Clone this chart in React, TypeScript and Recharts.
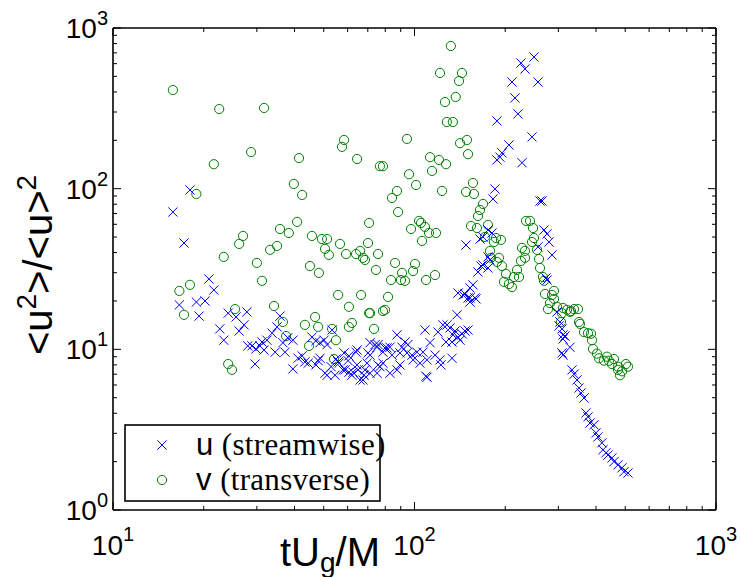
import React from 'react';
import { ScatterChart, Scatter, XAxis, YAxis } from 'recharts';

// tick values (log axes, majors get labels)
const xTicks = [10, 20, 30, 40, 50, 60, 70, 80, 90, 100, 200, 300, 400, 500, 600, 700, 800, 900, 1000];
const yTicks = [1, 2, 3, 4, 5, 6, 7, 8, 9, 10, 20, 30, 40, 50, 60, 70, 80, 90, 100, 200, 300, 400, 500, 600, 700, 800, 900, 1000];
const majorTicks = [1, 10, 100, 1000];

// u (streamwise): [tUg/M, <u^2>/<u>^2]
const uPoints: [number, number][] = [
  [15.8, 71.6], [18.0, 98.2], [17.2, 45.9], [20.8, 27.4], [21.6, 23.4], [16.6, 18.9], [18.9, 19.7], [20.2, 20.0],
  [19.3, 16.1], [24.1, 16.8], [25.6, 15.9], [27.2, 14.2], [27.8, 17.1], [26.2, 13.0], [22.6, 13.4], [23.3, 11.4],
  [28.0, 10.5], [35.8, 16.1], [35.0, 13.8], [33.7, 12.6], [32.4, 11.4], [31.2, 11.1], [28.9, 10.5], [30.7, 10.5],
  [29.8, 10.06], [31.7, 9.9], [34.5, 9.6], [37.2, 9.6], [36.6, 11.0], [38.0, 11.8], [39.5, 11.4], [39.5, 7.55],
  [29.6, 8.1], [41.1, 8.8], [42.4, 9.1], [43.3, 8.35], [44.4, 8.2], [45.7, 11.9], [47.1, 11.3], [48.6, 11.0],
  [50.1, 11.4], [51.3, 10.7], [53.3, 13.2], [48.6, 8.8], [47.1, 8.0], [51.3, 6.9], [52.9, 7.8], [54.5, 6.9],
  [56.2, 8.2], [57.9, 7.45], [60.6, 7.2], [62.0, 6.9], [64.0, 9.6], [65.0, 7.45], [66.0, 6.45], [68.0, 6.9],
  [70.1, 9.5], [69.6, 8.2], [60.6, 9.1], [54.9, 8.7], [58.4, 9.5], [58.8, 7.45], [67.5, 6.45], [64.5, 8.0],
  [68.5, 7.45], [71.2, 7.1], [75.7, 8.0], [78.6, 8.2], [82.9, 7.1], [62.5, 7.2], [64.5, 9.9], [71.2, 9.2],
  [74.0, 10.7], [75.7, 10.7], [78.6, 9.6], [81.1, 10.2], [84.2, 9.2], [87.5, 7.45], [89.5, 8.0], [87.5, 12.3],
  [90.9, 10.3], [93.0, 11.1], [95.1, 10.7], [94.4, 9.5], [98.1, 9.2], [98.9, 8.6], [101.9, 9.6], [104.3, 8.2],
  [106.7, 9.6], [108.3, 13.2], [110.0, 6.7], [110.0, 8.6], [112.6, 11.0], [117.0, 9.2], [119.7, 12.8], [121.5, 8.6],
  [122.4, 8.0], [124.3, 14.2], [127.2, 11.1], [128.2, 14.2], [131.2, 13.6], [133.2, 11.1], [134.2, 12.3], [133.2, 8.8],
  [136.3, 13.0], [138.4, 16.4], [139.4, 11.9], [139.4, 22.4], [147.1, 22.1], [152.8, 20.9], [159.9, 20.6], [147.1, 13.0],
  [79.8, 10.2], [75.1, 10.3], [71.2, 11.0], [76.8, 7.8], [75.1, 7.1], [89.5, 9.5], [82.9, 10.3], [109.2, 6.8],
  [150.5, 13.2], [143.7, 12.5], [141.6, 11.4], [156.3, 25.2], [152.8, 24.1], [144.8, 21.8], [150.5, 20.9], [158.7, 20.9],
  [152.8, 19.7], [162.4, 30.3], [168.7, 33.5], [175.3, 32.1], [178.0, 36.0], [175.3, 37.6], [166.2, 33.0], [148.2, 44.6],
  [164.9, 48.6], [168.7, 50.1], [175.3, 55.3], [180.7, 53.0], [184.9, 99.6], [182.1, 86.3], [187.7, 264], [192.1, 157],
  [195.0, 167], [187.7, 151], [205.7, 187], [227.3, 145], [245.3, 210], [220.4, 292], [215.4, 367], [210.5, 461],
  [256.8, 461], [232.5, 556], [225.5, 605], [249.1, 660], [260.8, 83.8], [264.8, 83.8], [268.8, 55.3], [275.1, 52.3],
  [279.3, 46.6], [256.8, 43.4], [285.8, 38.7], [273.0, 27.8], [275.1, 27.0], [296.9, 17.1], [303.8, 14.8], [310.8, 12.3],
  [308.4, 9.5], [301.5, 14.0], [308.4, 13.4], [315.6, 12.1], [310.8, 11.6], [327.9, 10.3], [310.8, 9.2], [332.9, 7.45],
  [338.1, 7.0], [345.9, 6.45], [351.2, 5.75], [356.6, 5.35], [364.9, 4.98], [370.5, 4.02], [376.2, 3.8], [382.0, 3.48],
  [393.8, 3.39], [399.9, 3.02], [406.0, 2.85], [418.6, 2.62], [421.8, 2.37], [431.6, 2.27], [438.2, 2.2], [451.8, 2.11],
  [458.8, 2.0], [473.2, 1.91], [487.8, 1.83], [495.3, 1.73], [510.6, 1.7], [47.9, 8.5], [50.5, 7.1], [55.8, 8.35],
  [60.2, 8.5],
];

// v (transverse)
const vPoints: [number, number][] = [
  [15.8, 411], [22.5, 313], [31.7, 318], [28.7, 169], [21.6, 142], [18.9, 92.7], [41.4, 155], [58.4, 201],
  [57.5, 182], [64.5, 153], [39.8, 107], [42.4, 91.4], [40.8, 62.1], [70.7, 61.2], [35.8, 56.1], [38.3, 53.0],
  [27.0, 50.8], [26.2, 45.3], [45.7, 50.8], [49.3, 48.6], [51.3, 48.6], [50.5, 42.2], [52.0, 38.7], [56.6, 45.3],
  [59.3, 39.2], [64.0, 39.2], [66.0, 41.0], [68.5, 36.0], [70.1, 45.9], [33.2, 41.6], [35.0, 44.0], [23.3, 37.6],
  [30.0, 34.5], [45.0, 33.0], [48.2, 29.9], [31.2, 26.7], [18.0, 25.2], [16.6, 23.1], [17.2, 16.4], [25.4, 17.8],
  [34.2, 18.6], [36.6, 14.8], [37.5, 12.1], [43.3, 14.2], [46.8, 15.9], [47.9, 13.8], [53.3, 13.4], [54.9, 11.4],
  [44.7, 10.5], [54.1, 8.7], [55.8, 21.8], [66.5, 21.8], [60.6, 18.4], [62.0, 14.6], [60.6, 13.8], [70.7, 16.8],
  [24.1, 8.1], [24.8, 7.45], [132, 773], [121.5, 525], [143.7, 525], [140.5, 468], [126.2, 346], [137, 372],
  [128, 260], [134, 260], [94.4, 204], [141.6, 192], [149.3, 201], [150.5, 164], [76.8, 138], [78.6, 138],
  [112.6, 157], [120.6, 151], [127.2, 142], [114.3, 129], [95.9, 123], [101.2, 105.4], [123.4, 96.8], [87.5, 96.8],
  [84.2, 87.5], [156.3, 108.5], [148.2, 95.4], [157.5, 92.7], [88.2, 71.6], [168.7, 80.3], [164.9, 73.7], [162.4, 67.6],
  [103.5, 63.0], [105.1, 61.2], [108.3, 57.8], [97.4, 56.1], [111.7, 53.0], [117.8, 53.0], [105.9, 47.3], [154.0, 58.6],
  [161.1, 56.9], [175.3, 59.5], [171.3, 50.1], [186.3, 49.3], [193.6, 48.0], [183.5, 46.6], [178.0, 41.0], [179.4, 37.1],
  [190.6, 37.1], [75.7, 39.2], [74.5, 31.2], [86.2, 34.5], [90.9, 29.9], [98.9, 30.7], [100.4, 34.0], [83.6, 27.0],
  [90.2, 27.0], [93.0, 26.7], [109.2, 27.0], [117.0, 29.0], [187.7, 35.0], [195.0, 33.0], [201.1, 29.5], [198.0, 26.3],
  [205.7, 25.5], [210.5, 24.4], [213.8, 28.2], [222.1, 28.2], [218.8, 31.2], [225.5, 35.5], [232.5, 37.1], [227.3, 42.8],
  [232.5, 41.0], [234.3, 63.0], [241.6, 63.0], [247.2, 56.9], [249.1, 49.3], [245.3, 46.6], [254.9, 41.6], [258.8, 36.5],
  [260.8, 32.1], [266.8, 28.2], [268.8, 26.7], [290.2, 23.1], [270.9, 22.1], [285.8, 21.8], [290.2, 20.6], [277.2, 17.8],
  [281.4, 19.4], [296.9, 18.4], [306.1, 14.8], [310.8, 18.1], [320.4, 17.6], [330.4, 17.3], [338.1, 17.8], [348.5, 17.8],
  [327.9, 17.1], [351.2, 14.8], [353.9, 14.4], [364.9, 12.8], [376.2, 12.6], [384.9, 12.5], [387.9, 11.4], [390.8, 10.06],
  [402.9, 9.4], [409.1, 8.8], [425.0, 8.5], [434.9, 9.0], [441.6, 8.5], [458.8, 8.7], [451.8, 8.1], [473.2, 7.45],
  [480.4, 6.9], [473.2, 7.8], [487.8, 7.3], [502.9, 8.1], [510.6, 7.8], [81.7, 21.2], [79.8, 17.6], [78.6, 17.3],
  [73.4, 13.4], [71.2, 16.8], [308.4, 16.8], [67.5, 37.1],
];

const uData = uPoints.map(([x, y]) => ({ x, y }));
const vData = vPoints.map(([x, y]) => ({ x, y }));

const SANS = 'Liberation Sans, Arial, Helvetica, sans-serif';
const SERIF = 'Liberation Serif, Times New Roman, serif';
const BLUE = '#0000ff';
const GREEN = '#008000';
const AXIS = '#000';

const isMajor = (v: number) => majorTicks.includes(v);
const expOf = (v: number) => Math.round(Math.log10(v));

function Cross(props: any) {
  const { cx, cy } = props;
  const r = 4.6;
  return (
    <g stroke={BLUE} strokeWidth={1}>
      <line x1={cx - r} y1={cy - r} x2={cx + r} y2={cy + r} />
      <line x1={cx - r} y1={cy + r} x2={cx + r} y2={cy - r} />
    </g>
  );
}

function Ring(props: any) {
  const { cx, cy } = props;
  return <circle cx={cx} cy={cy} r={4.6} fill="none" stroke={GREEN} strokeWidth={1} />;
}

function BottomTick(props: any) {
  const { x, y, payload } = props;
  const v = payload.value;
  const major = isMajor(v);
  return (
    <g>
      <line x1={x} x2={x} y1={y} y2={y - (major ? 8 : 4)} stroke={AXIS} strokeWidth={1} />
      {major && (
        <text x={x} y={y + 45} textAnchor="middle" fontFamily={SANS} fontSize={28} fill="#000">
          10<tspan dy={-14} fontSize={20}>{expOf(v)}</tspan>
        </text>
      )}
    </g>
  );
}

function TopTick(props: any) {
  const { x, y, payload } = props;
  const major = isMajor(payload.value);
  return <line x1={x} x2={x} y1={y} y2={y + (major ? 8 : 4)} stroke={AXIS} strokeWidth={1} />;
}

function LeftTick(props: any) {
  const { x, y, payload } = props;
  const v = payload.value;
  const major = isMajor(v);
  return (
    <g>
      <line x1={x} x2={x + (major ? 8 : 4)} y1={y} y2={y} stroke={AXIS} strokeWidth={1} />
      {major && (
        <text x={x - 5} y={y + 10} textAnchor="end" fontFamily={SANS} fontSize={28} fill="#000">
          10<tspan dy={-13} fontSize={20}>{expOf(v)}</tspan>
        </text>
      )}
    </g>
  );
}

function RightTick(props: any) {
  const { x, y, payload } = props;
  const major = isMajor(payload.value);
  return <line x1={x} x2={x - (major ? 8 : 4)} y1={y} y2={y} stroke={AXIS} strokeWidth={1} />;
}

const axisLine = { stroke: AXIS, strokeWidth: 1.6 };

export default function App() {
  return (
    <div style={{ position: 'absolute', left: 0, top: 0, width: 740, height: 577, background: '#fff' }}>
      <ScatterChart width={740} height={577} margin={{ top: 27, right: 23, bottom: 0, left: 0 }}>
        <XAxis
          type="number" dataKey="x" scale="log" domain={[10, 1000]} allowDataOverflow
          ticks={xTicks} interval={0} height={67} tickSize={0} tickMargin={0}
          axisLine={axisLine} tickLine={false} tick={<BottomTick />}
        />
        <XAxis
          xAxisId="top" orientation="top" type="number" dataKey="x" scale="log" domain={[10, 1000]} allowDataOverflow
          ticks={xTicks} interval={0} height={1} tickSize={0} tickMargin={0}
          axisLine={axisLine} tickLine={false} tick={<TopTick />}
        />
        <YAxis
          type="number" dataKey="y" scale="log" domain={[1, 1000]} allowDataOverflow
          ticks={yTicks} interval={0} width={113} tickSize={0} tickMargin={0}
          axisLine={axisLine} tickLine={false} tick={<LeftTick />}
        />
        <YAxis
          yAxisId="right" orientation="right" type="number" dataKey="y" scale="log" domain={[1, 1000]} allowDataOverflow
          ticks={yTicks} interval={0} width={1} tickSize={0} tickMargin={0}
          axisLine={axisLine} tickLine={false} tick={<RightTick />}
        />
        <Scatter name="v (transverse)" data={vData} shape={<Ring />} isAnimationActive={false} />
        <Scatter name="u (streamwise)" data={uData} shape={<Cross />} isAnimationActive={false} />
      </ScatterChart>

      <svg width={740} height={577} style={{ position: 'absolute', left: 0, top: 0, pointerEvents: 'none' }}>
        {/* y label */}
        <text transform="translate(52,265) rotate(-90)" textAnchor="middle" fontFamily={SANS} fontSize={40} fill="#000">
          &lt;u<tspan dy={-16} fontSize={28}>2</tspan>
          <tspan dy={16}>&gt;/&lt;u&gt;</tspan>
          <tspan dy={-16} fontSize={28}>2</tspan>
        </text>
        {/* x label */}
        <text x={280} y={566} fontFamily={SANS} fontSize={40} fill="#000">
          tU<tspan dy={6} fontSize={28}>g</tspan>
          <tspan dy={-6}>/M</tspan>
        </text>
        {/* legend */}
        <rect x={125} y={425} width={255} height={76} fill="#fff" stroke={AXIS} strokeWidth={1.6} />
        <Cross cx={162} cy={445} />
        <Ring cx={162} cy={480} />
        <text x={196} y={455} fontSize={31} fill="#000">
          <tspan fontFamily={SANS}>u </tspan>
          <tspan fontFamily={SERIF} letterSpacing={0.3}>(streamwise)</tspan>
        </text>
        <text x={196} y={490} fontSize={31} fill="#000">
          <tspan fontFamily={SANS}>v </tspan>
          <tspan fontFamily={SERIF} letterSpacing={0.3}>(transverse)</tspan>
        </text>
      </svg>
    </div>
  );
}
